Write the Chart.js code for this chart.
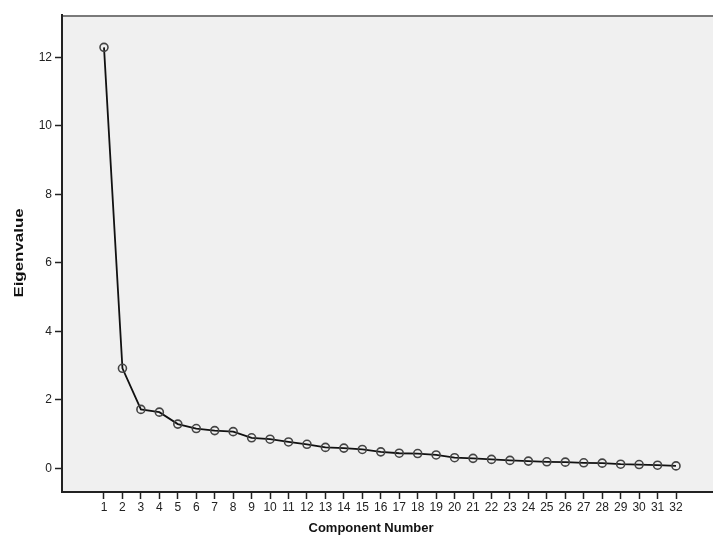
<!DOCTYPE html>
<html>
<head>
<meta charset="utf-8">
<script src="https://cdn.jsdelivr.net/npm/chart.js@4"></script>
<style>
  html, body { margin: 0; padding: 0; background: #fff; }
  #wrap { position: relative; width: 713px; height: 543px; }
</style>
</head>
<body>
<div id="wrap"><canvas id="scree" width="713" height="543"></canvas></div>
<script>
// Scree plot data
const components = [1, 2, 3, 4, 5, 6, 7, 8, 9, 10, 11, 12, 13, 14, 15, 16,
  17, 18, 19, 20, 21, 22, 23, 24, 25, 26, 27, 28, 29, 30, 31, 32];
const eigenvalues = [12.29, 2.92, 1.72, 1.64, 1.29, 1.16, 1.10, 1.07, 0.89, 0.85,
  0.77, 0.70, 0.61, 0.59, 0.55, 0.48, 0.44, 0.43, 0.39, 0.31, 0.29, 0.26, 0.23,
  0.21, 0.19, 0.18, 0.16, 0.15, 0.12, 0.11, 0.09, 0.07];
const yTicks = [0, 2, 4, 6, 8, 10, 12];
const xTicks = components;
const xTitle = "Component Number";
const yTitle = "Eigenvalue";

const FONT = "'Liberation Sans', Arial, sans-serif";

// grey plot background + thin top frame line
const plotFrame = {
  id: "plotFrame",
  beforeDraw(chart) {
    const { ctx, chartArea: a } = chart;
    ctx.save();
    ctx.fillStyle = "#f0f0f0";
    ctx.fillRect(a.left, a.top, a.right - a.left, a.bottom - a.top);
    ctx.strokeStyle = "#7a7a7a";
    ctx.lineWidth = 2;
    ctx.beginPath();
    ctx.moveTo(a.left, a.top + 1);
    ctx.lineTo(a.right, a.top + 1);
    ctx.stroke();
    ctx.restore();
  },
  // axis titles: SPSS puts them a bit off the plot centre, y title is stretched
  afterDraw(chart) {
    const { ctx } = chart;
    ctx.save();
    ctx.fillStyle = "#111";
    ctx.font = "bold 13px " + FONT;
    ctx.textAlign = "center";
    ctx.textBaseline = "middle";
    ctx.fillText(xTitle, 371, 528);
    ctx.translate(19.5, 253);
    ctx.rotate(-Math.PI / 2);
    ctx.scale(1.3, 1);
    ctx.fillText(yTitle, 0, 0);
    ctx.restore();
  },
};

const ctx = document.getElementById("scree").getContext("2d");
new Chart(ctx, {
  type: "line",
  data: {
    datasets: [{
      label: yTitle,
      data: components.map((c, i) => ({ x: c, y: eigenvalues[i] })),
      borderColor: "#111",
      borderWidth: 1.8,
      tension: 0,
      pointRadius: 4,
      pointHoverRadius: 4,
      pointBackgroundColor: "rgba(0,0,0,0)",
      pointBorderColor: "#444",
      pointBorderWidth: 1.6,
    }],
  },
  options: {
    responsive: false,
    animation: false,
    events: [],
    layout: { autoPadding: false, padding: { top: 15, right: 0, bottom: 0, left: 0 } },
    plugins: { legend: { display: false }, tooltip: { enabled: false } },
    scales: {
      x: {
        type: "linear",
        min: -1.276,
        max: 34.005,
        afterBuildTicks: (s) => { s.ticks = xTicks.map((v) => ({ value: v })); },
        afterFit: (s) => { s.height = 51; },
        grid: { drawOnChartArea: false, tickLength: 7, tickColor: "#222", tickWidth: 1.5 },
        border: { color: "#222", width: 2 },
        ticks: { color: "#222", padding: 1, maxRotation: 0, autoSkip: false,
                 font: { family: FONT, size: 12 } },
        title: { display: false },
      },
      y: {
        type: "linear",
        min: -0.692,
        max: 13.235,
        afterBuildTicks: (s) => { s.ticks = yTicks.map((v) => ({ value: v })); },
        afterFit: (s) => { s.width = 62; },
        grid: { drawOnChartArea: false, tickLength: 7, tickColor: "#222", tickWidth: 1.5 },
        border: { color: "#222", width: 2 },
        ticks: { color: "#222", padding: 3, font: { family: FONT, size: 12 } },
        title: { display: false },
      },
    },
  },
  plugins: [plotFrame],
});
</script>
</body>
</html>
